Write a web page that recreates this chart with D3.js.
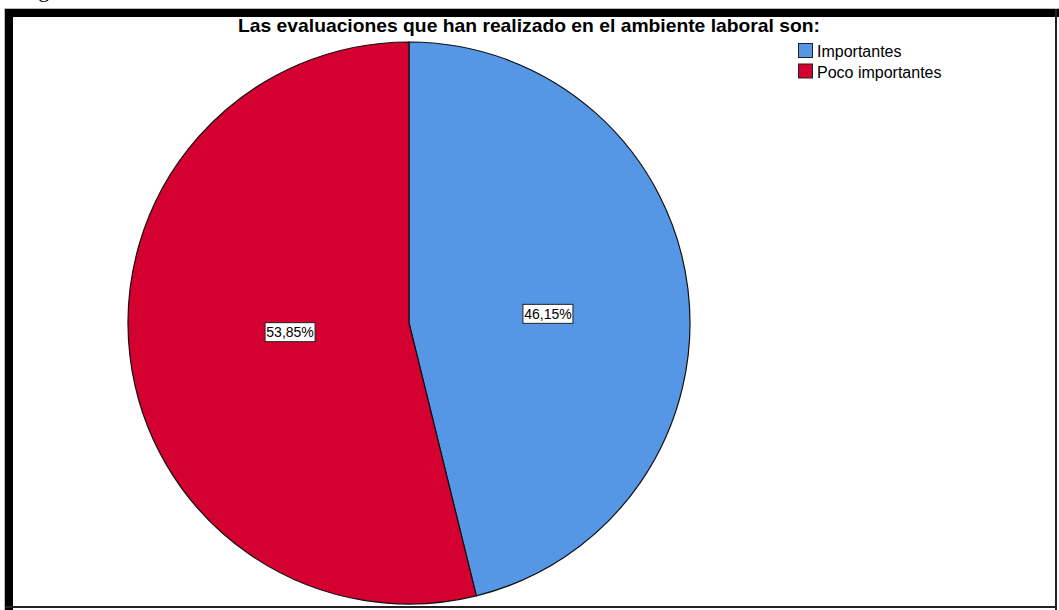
<!DOCTYPE html>
<html>
<head>
<meta charset="utf-8">
<script src="https://cdn.jsdelivr.net/npm/d3@7"></script>
<style>
  html, body { margin: 0; padding: 0; background: #fff; }
  svg { display: block; }
</style>
</head>
<body>
<svg id="chart" width="1059" height="610"></svg>
<script>
// Categories and their percentages
const categories = ["Importantes", "Poco importantes"];
const percentages = [46.15, 53.85];
const colors = ["#5597e5", "#d40030"];
const title = "Las evaluaciones que han realizado en el ambiente laboral son:";

const svg = d3.select("#chart");
const W = 1059, H = 610;

// Caption text above the frame (mostly cut off)
svg.append("text")
  .attr("x", 20).attr("y", -3)
  .attr("font-family", "Liberation Serif, serif")
  .attr("font-size", 22)
  .attr("fill", "#000")
  .text("Figura");

// Frame: thick top/left edges, thin right/bottom edges
svg.append("rect").attr("x", 4).attr("y", 8).attr("width", W - 4).attr("height", 1).attr("fill", "#bbb");
svg.append("rect").attr("x", 4).attr("y", 8).attr("width", 1).attr("height", H - 8).attr("fill", "#bbb");
svg.append("rect").attr("x", 5).attr("y", 9).attr("width", W - 5).attr("height", 8).attr("fill", "#000");
svg.append("rect").attr("x", 5).attr("y", 9).attr("width", 8).attr("height", H - 9).attr("fill", "#000");
svg.append("rect").attr("x", 1055).attr("y", 9).attr("width", 2).attr("height", H - 9).attr("fill", "#222");
svg.append("rect").attr("x", 5).attr("y", 606).attr("width", 1052).attr("height", 2).attr("fill", "#222");

// Title
svg.append("text")
  .attr("x", 529).attr("y", 32)
  .attr("text-anchor", "middle")
  .attr("font-family", "Liberation Sans, Arial, sans-serif")
  .attr("font-weight", "bold")
  .attr("font-size", 19)
  .attr("textLength", 582)
  .attr("lengthAdjust", "spacingAndGlyphs")
  .attr("fill", "#000")
  .text(title);

// Pie
const cx = 409, cy = 323, R = 281;
const data = categories.map((c, i) => ({ name: c, value: percentages[i], color: colors[i] }));
const pie = d3.pie().sort(null).value(d => d.value);
const arcs = pie(data);
const arc = d3.arc().innerRadius(0).outerRadius(R);

const g = svg.append("g").attr("transform", `translate(${cx},${cy})`);
g.selectAll("path.slice")
  .data(arcs)
  .join("path")
  .attr("class", "slice")
  .attr("d", arc)
  .attr("fill", d => d.data.color)
  .attr("stroke", "#111")
  .attr("stroke-width", 1.2);

// Value labels in white boxes
const fmt = v => v.toFixed(2).replace(".", ",") + "%";
const lbl = g.selectAll("g.lbl")
  .data(arcs)
  .join("g")
  .attr("class", "lbl")
  .attr("transform", d => {
    // a little clockwise of the slice's middle, nudged right
    const mid = (d.startAngle + d.endAngle) / 2 + 0.05;
    const r = 0.46 * R;
    return `translate(${r * Math.sin(mid) + 10},${-r * Math.cos(mid)})`;
  });
lbl.append("rect")
  .attr("x", -25).attr("y", -9.5)
  .attr("width", 50).attr("height", 19)
  .attr("fill", "#fff")
  .attr("stroke", "#222")
  .attr("stroke-width", 1);
lbl.append("text")
  .attr("text-anchor", "middle")
  .attr("dy", "0.36em")
  .attr("font-family", "Liberation Sans, Arial, sans-serif")
  .attr("font-size", 14)
  .attr("fill", "#000")
  .text(d => fmt(d.data.value));

// Legend
const legend = svg.append("g").attr("transform", "translate(798,43)");
const items = legend.selectAll("g.item")
  .data(data)
  .join("g")
  .attr("class", "item")
  .attr("transform", (d, i) => `translate(0,${i * 20.5})`);
items.append("rect")
  .attr("x", 0.5).attr("y", 0.5)
  .attr("width", 14).attr("height", 14)
  .attr("fill", d => d.color)
  .attr("stroke", "#222")
  .attr("stroke-width", 1);
items.append("text")
  .attr("x", 19).attr("y", 14)
  .attr("font-family", "Liberation Sans, Arial, sans-serif")
  .attr("font-size", 16)
  .attr("fill", "#000")
  .text(d => d.name);
</script>
</body>
</html>
